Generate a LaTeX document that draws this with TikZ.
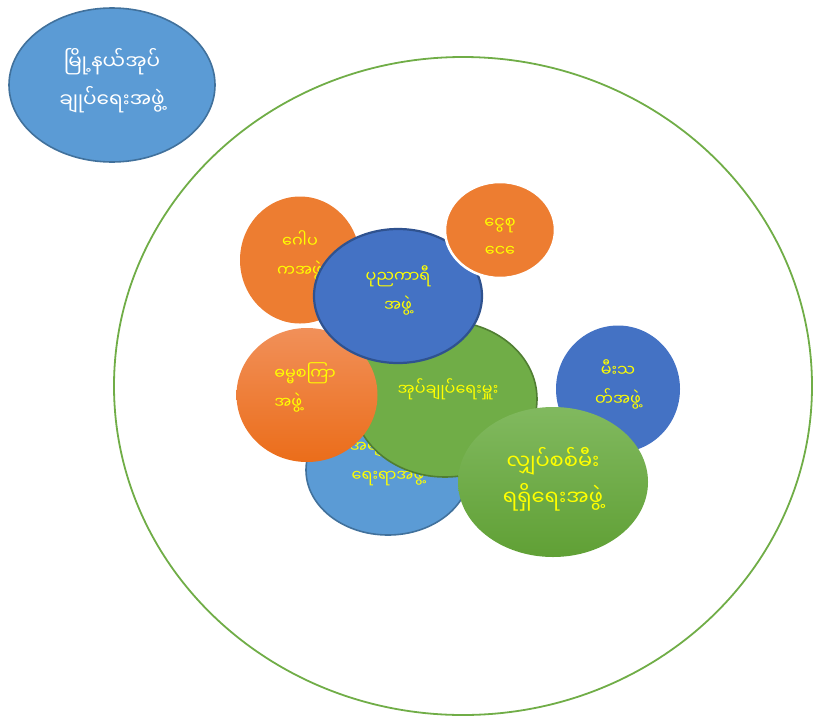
\documentclass[tikz,border=0pt]{standalone}
\usepackage{fontspec}
\newfontfamily\mmfont[Script=Myanmar]{Noto Sans Myanmar UI}
\usetikzlibrary{shapes.geometric}
\definecolor{ffffqq}{rgb}{1.,1.,0.}
\definecolor{zzbbdd}{rgb}{0.3569,0.6078,0.8353}
\definecolor{ttuu99}{rgb}{0.2549,0.4431,0.6118}
\definecolor{ttuucc}{rgb}{0.2667,0.4471,0.7686}
\definecolor{eezz88}{rgb}{0.1843,0.3216,0.5608}
\definecolor{eexx33}{rgb}{0.9294,0.4902,0.1922}
\definecolor{ffaazz}{rgb}{0.9451,0.5647,0.3490}
\definecolor{eeuuee}{rgb}{0.9216,0.4275,0.1020}
\definecolor{xxaatt}{rgb}{0.4392,0.6784,0.2784}
\definecolor{zz7733}{rgb}{0.3137,0.4941,0.1961}
\definecolor{aabbuu}{rgb}{0.5059,0.7255,0.3725}
\definecolor{uuaa33}{rgb}{0.3765,0.6275,0.2078}

\begin{document}
\begin{tikzpicture}[line cap=round,line join=round,x=1pt,y=-1pt,
	blob/.style={ellipse,inner sep=0pt},
	lbl/.style={inner sep=0pt,align=center,text=ffffqq,
		font=\mmfont\fontsize{16}{29}\selectfont},
	biglbl/.style={lbl,font=\mmfont\fontsize{20}{38}\selectfont}]
	\useasboundingbox (0,0) rectangle (813,718);
	\draw [color=xxaatt,line width=1.8] (463,386) ellipse (349 and 329);
	\node [blob,fill=zzbbdd,draw=ttuu99,line width=1.6,
		minimum width=206,minimum height=154] (township) at (112,85) {};
	\node [biglbl,text=white] (township-txt) at ([yshift=4]township.center)
		{မြို့နယ်အုပ်\\ချုပ်ရေးအဖွဲ့};
	% groups round the head
	\node [blob,fill=zzbbdd,draw=ttuu99,line width=1.6,
		minimum width=164,minimum height=130] (women) at (388,470) {};
	\node [lbl] (women-txt) at ([yshift=9]women.center)
		{အမျိုးသမီး\\ရေးရာအဖွဲ့};
	\node [blob,fill=xxaatt,draw=zz7733,line width=1.6,
		minimum width=184,minimum height=156] (head) at (445,399) {};
	\node [lbl] (head-txt) at ([xshift=3,yshift=10]head.center)
		{အုပ်ချုပ်ရေးမှူး};
	\node [blob,fill=eexx33,
		minimum width=120,minimum height=127] (trustee) at (300,260) {};
	\node [lbl] (trustee-txt) at ([yshift=5]trustee.center)
		{ဂေါပ\\ကအဖွဲ့};
	\node [blob,top color=ffaazz,bottom color=eeuuee,
		minimum width=141,minimum height=134] (dhamma) at (307,395) {};
	\node [lbl,align=left] (dhamma-txt) at ([xshift=-2,yshift=8]dhamma.center)
		{ဓမ္မစကြာ\\အဖွဲ့};
	\node [blob,fill=ttuucc,draw=eezz88,line width=2.2,
		minimum width=168,minimum height=134] (charity) at (398,296) {};
	\node [lbl] (charity-txt) at ([yshift=6]charity.center)
		{ပုညကာရီ\\အဖွဲ့};
	\node [blob,fill=eexx33,draw=white,line width=2.5,
		minimum width=110,minimum height=96] (savings) at (500,230) {};
	\node [lbl,font=\mmfont\fontsize{16}{28}\selectfont] (savings-txt)
		at ([yshift=-7]savings.center)
		{ငွေစု\\ငေ\XeTeXglyph\XeTeXcharglyph"1031\relax};
	\node [blob,fill=ttuucc,
		minimum width=124,minimum height=127] (fire) at (618,389) {};
	\node [lbl] (fire-txt) at ([yshift=5]fire.center)
		{မီးသ\\တ်အဖွဲ့};
	\node [blob,top color=aabbuu,bottom color=uuaa33,
		minimum width=190,minimum height=150] (power) at (553,482) {};
	\node [biglbl,font=\mmfont\fontsize{21}{36}\selectfont] (power-txt)
		at ([yshift=3]power.center) {လျှပ်စစ်မီး\\ရရှိရေးအဖွဲ့};
\end{tikzpicture}
\end{document}
